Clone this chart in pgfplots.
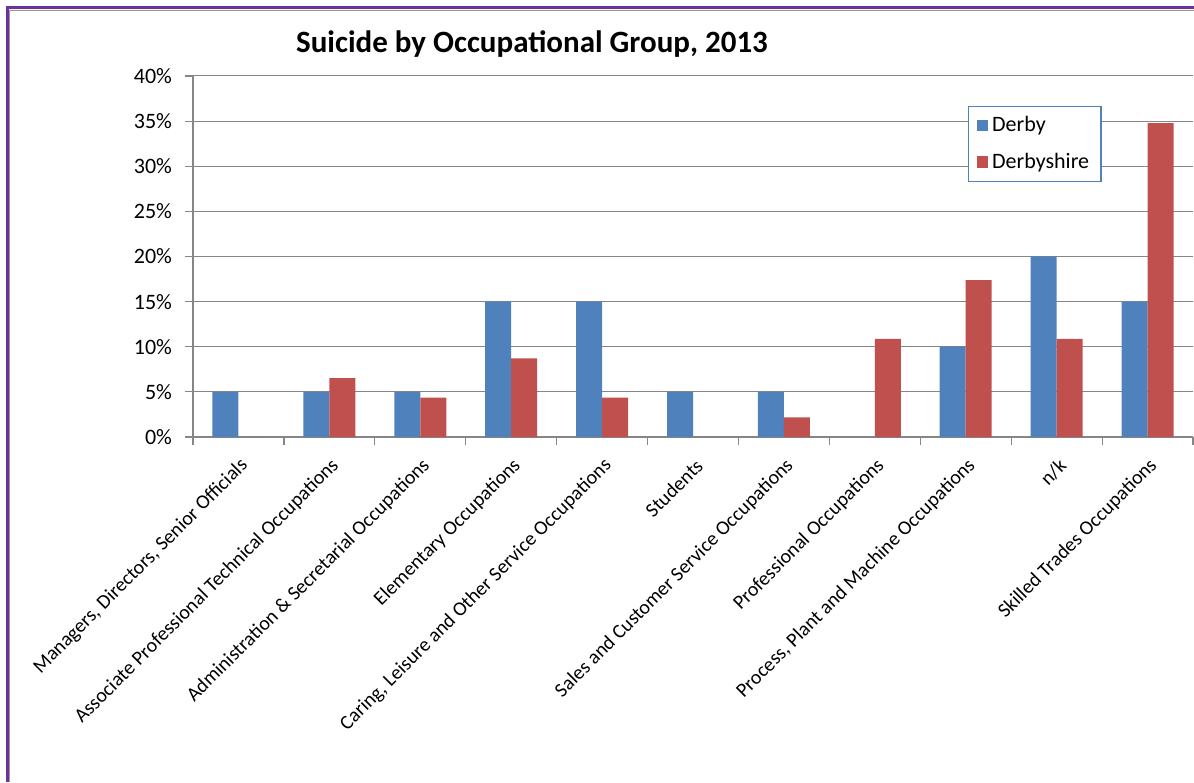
\documentclass[border=0pt]{standalone}
\usepackage{fontspec}
\setmainfont{Carlito}
\usepackage{pgfplots}
\pgfplotsset{compat=1.18}
\definecolor{derby}{HTML}{4F81BD}
\definecolor{shire}{HTML}{C0504D}
\definecolor{gridc}{RGB}{134,134,134}
\definecolor{framec}{HTML}{7030A0}
\definecolor{legc}{HTML}{4F81BD}
\begin{document}
\begin{tikzpicture}
\path[use as bounding box] (0pt,0pt) rectangle (597pt,391pt);
\draw[framec, line width=1.5pt] (3.5pt,0pt) -- (3.5pt,387pt) -- (597pt,387pt);
\draw[gray!80, line width=0.5pt] (4.9pt,0pt) -- (4.9pt,385.6pt) -- (597pt,385.6pt);
\node[anchor=base, font=\fontsize{15.5}{18}\selectfont\bfseries] at (266pt,364.5pt) {Suicide by Occupational Group, 2013};
\begin{axis}[
  at={(96.5pt,172.5pt)}, anchor=south west,
  scale only axis, width=500pt, height=180.5pt,
  xmin=-0.5, xmax=10.5, ymin=0, ymax=40,
  ybar=0pt, bar width=13pt,
  axis x line*=bottom, axis y line*=left,
  axis line style={-, draw=gridc, line width=0.6pt},
  ymajorgrids, grid style={draw=gridc, line width=0.5pt},
  tick align=outside, major tick length=4pt,
  tick style={draw=gridc, line width=0.6pt},
  ytick={0,5,...,40},
  yticklabels={0\%,5\%,10\%,15\%,20\%,25\%,30\%,35\%,40\%},
  yticklabel style={font=\fontsize{11}{13}\selectfont, xshift=-3pt},
  xtick={-0.5,0.5,...,10.5},
  x tick label as interval,
  xticklabels={{Managers, Directors, Senior Officials},
    {Associate Professional Technical Occupations},
    {Administration \& Secretarial Occupations},
    {Elementary Occupations},
    {Caring, Leisure and Other Service Occupations},
    {Students},
    {Sales and Customer Service Occupations},
    {Professional Occupations},
    {Process, Plant and Machine Occupations},
    {n/k},
    {Skilled Trades Occupations}},
  xticklabel style={font=\fontsize{10}{12}\selectfont, rotate=45, anchor=east, xshift=-0.5pt, yshift=-8.5pt},
  legend style={at={(0.775,0.917)}, anchor=north west, draw=legc, line width=0.6pt,
    font=\fontsize{11}{13}\selectfont, inner xsep=4pt, inner ysep=3pt, row sep=5pt},
  legend cell align=left,
  legend image code/.code={\draw[#1,draw=none] (0pt,-2.9pt) rectangle (5.8pt,2.9pt);},
]
\addplot[fill=derby, draw=none] coordinates {(0,5) (1,5) (2,5) (3,15) (4,15) (5,5) (6,5) (7,0) (8,10) (9,20) (10,15)};
\addplot[fill=shire, draw=none] coordinates {(0,0) (1,6.52) (2,4.35) (3,8.70) (4,4.35) (5,0) (6,2.17) (7,10.87) (8,17.39) (9,10.87) (10,34.78)};
\legend{Derby, Derbyshire}
\end{axis}
\end{tikzpicture}
\end{document}
